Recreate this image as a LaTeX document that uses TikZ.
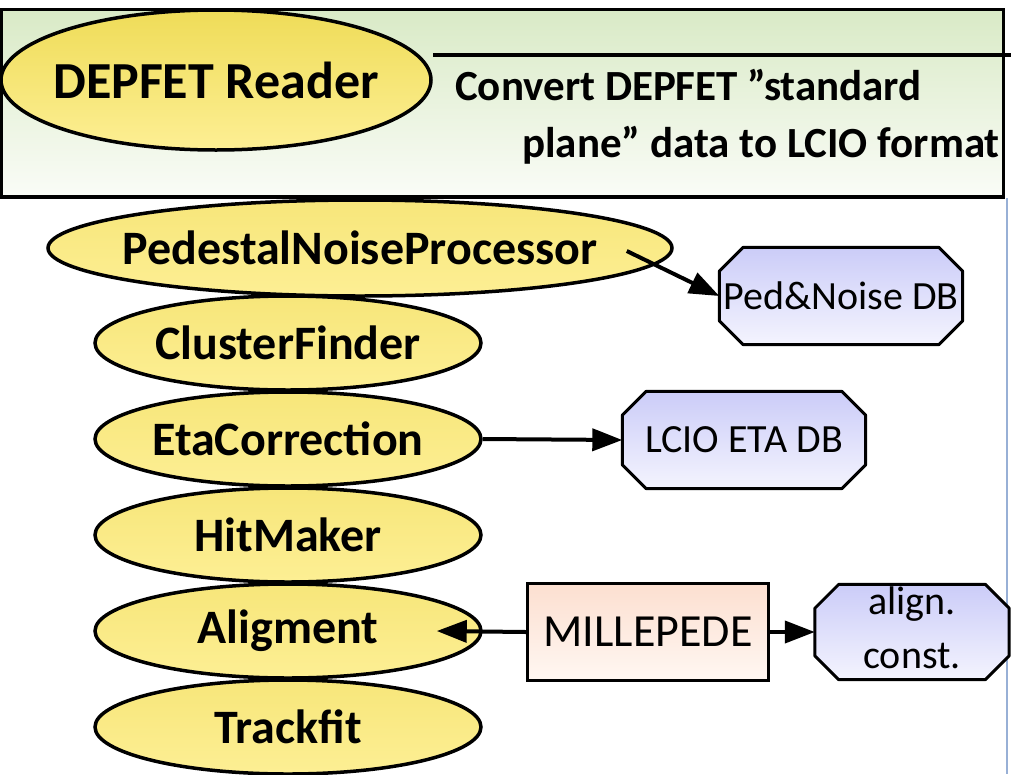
\documentclass[tikz,border=0pt]{standalone}
\usepackage{fontspec}
\setmainfont{Carlito}
\usetikzlibrary{shapes.geometric,positioning,arrows.meta}

\definecolor{procTop}{HTML}{F7E67A}
\definecolor{procBot}{HTML}{FDEF94}
\definecolor{readTop}{HTML}{EFDC58}
\definecolor{dbTop}{HTML}{CBCCF8}
\definecolor{dbBot}{HTML}{F4F4FE}
\definecolor{mpTop}{HTML}{FCDFD0}
\definecolor{mpBot}{HTML}{FFF7F2}
\definecolor{hdrTop}{HTML}{D9EAC6}
\definecolor{hdrBot}{HTML}{FAFCF7}
\definecolor{edgeBlue}{HTML}{98B0D6}

% octagonal frame round a database node
\newcommand{\dbframe}[1]{%
  \draw[dbline] ([xshift=24pt]#1.north west) -- ([xshift=-24pt]#1.north east)
    -- ([yshift=-24pt]#1.north east) -- ([yshift=24pt]#1.south east)
    -- ([xshift=-24pt]#1.south east) -- ([xshift=24pt]#1.south west)
    -- ([yshift=24pt]#1.south west) -- ([yshift=-24pt]#1.north west) -- cycle;}

\begin{document}
\begin{tikzpicture}[x=1pt,y=-1pt,>={Triangle[length=30pt,width=22pt]},node distance=96pt,
  proc/.style={ellipse,draw,line width=3.5pt,top color=procTop,bottom color=procBot,
    inner ysep=0pt,inner xsep=-20pt,
    minimum width=386pt,minimum height=94pt,font=\fontsize{48}{52}\selectfont\bfseries},
  dbase/.style={rectangle,inner sep=0pt,minimum width=243pt,minimum height=97pt},
  dbline/.style={line width=3pt,line join=round,top color=dbTop,bottom color=dbBot},
  dbtext/.style={inner sep=0pt,align=center,font=\fontsize{40}{54}\selectfont},
  solver/.style={rectangle,draw,line width=3pt,top color=mpTop,bottom color=mpBot,inner sep=0pt,
    minimum width=241pt,minimum height=97pt,font=\fontsize{46}{50}\selectfont},
  note/.style={anchor=west,inner sep=0pt,font=\fontsize{43}{48}\selectfont\bfseries},
  flow/.style={->,line width=4pt}]
  \useasboundingbox (0,0) rectangle (1011,774);

  % reader stage
  \path[draw,line width=3.5pt,top color=hdrTop,bottom color=hdrBot] (1.5,9.5) rectangle (1003.5,197);
  \draw[line width=3.5pt] (433,55) -- (1011,55);
  \node[proc,minimum width=430pt,minimum height=140pt,font=\fontsize{52}{56}\selectfont\bfseries,
    top color=readTop] (rd) at (216,80) {DEPFET Reader};
  \node[note] (cv1) at (455,85) {Convert DEPFET "standard};
  \node[note] (cv2) at (522,145) {plane" data to LCIO format};

  % processor chain
  \draw[edgeBlue,line width=1.5pt] (1007,198) -- (1007,774);
  \node[proc,minimum width=624pt,minimum height=96pt] (pn) at (360,248) {PedestalNoiseProcessor};
  \node[proc] (cf) at (288,343) {ClusterFinder};
  \node[proc,below of=cf] (eta) {EtaCorrection};
  \node[proc,below of=eta] (hm) {HitMaker};
  \node[proc,below of=hm] (al) {Aligment};
  \node[proc,below of=al] (tf) {Trackfit};

  % outputs
  \node[dbase] (pndb) at (841,296) {};
  \dbframe{pndb}
  \node[dbtext] (pndbtxt) at (pndb) {Ped\&Noise DB};
  \node[dbase] (etadb) at (744,440) {};
  \dbframe{etadb}
  \node[dbtext] (etadbtxt) at (etadb) {LCIO ETA DB};
  \node[solver] (mp) at (648,632) {MILLEPEDE};
  \node[dbase,minimum width=194pt,minimum height=95pt] (ac) at (912,632) {};
  \dbframe{ac}
  \node[dbtext] (actxt) at ([yshift=4pt]ac.center) {align.\\const.};

  \coordinate (pnout) at ([xshift=-47pt,yshift=-3pt]pn.east);
  \coordinate (alin) at ([xshift=-46pt]al.east);
  \draw[flow] (pnout) -- (pndb.west);
  \draw[flow] (eta.east) -- (etadb.west);
  \draw[flow] (mp.west) -- (alin);
  \draw[flow] (mp.east) -- (ac.west);
\end{tikzpicture}
\end{document}
